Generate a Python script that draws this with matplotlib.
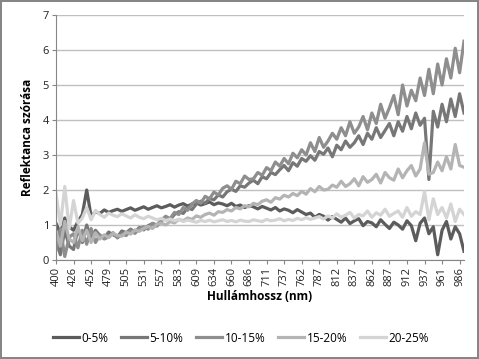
import matplotlib.pyplot as plt

plt.rcParams['font.family'] = ['Open Sans', 'DejaVu Sans']

# wavelength tick labels (every 4th sample of the category axis)
tick_labels = [400, 426, 452, 479, 505, 531, 557, 583, 609, 634, 660, 686,
               711, 737, 762, 787, 812, 837, 862, 887, 912, 937, 961, 986]

series_names = ['0-5%', '5-10%', '10-15%', '15-20%', '20-25%']
series_colors = ['#5c5c5c', '#777777', '#8e8e8e', '#b4b4b4', '#d4d4d4']

s0_5 = [1.05, 0.75, 1.2, 0.95, 0.85, 1.1, 1.3, 2.0,
        1.25, 1.38, 1.33, 1.43, 1.36, 1.41, 1.45, 1.39,
        1.44, 1.49, 1.42, 1.47, 1.52, 1.45, 1.5, 1.55,
        1.49, 1.53, 1.58, 1.51, 1.57, 1.61, 1.54, 1.6,
        1.63, 1.57, 1.61, 1.66, 1.58, 1.63, 1.6, 1.55,
        1.62, 1.53, 1.57, 1.5, 1.55, 1.52, 1.46, 1.53,
        1.48, 1.43, 1.5, 1.4, 1.46, 1.42, 1.35, 1.44,
        1.37, 1.3, 1.34, 1.22, 1.3, 1.25, 1.14, 1.24,
        1.16, 1.08, 1.2, 1.04, 1.12, 1.18, 0.98, 1.1,
        1.06, 0.95, 1.15, 1.02, 0.9, 1.08, 1.0, 0.88,
        1.12, 0.98, 0.55, 1.05, 1.2, 0.75, 0.95, 0.15,
        0.85, 1.1, 0.6, 0.95, 0.75, 0.25]

s5_10 = [0.55, 0.15, 0.85, 0.4, 0.3, 0.9, 0.5, 1.0,
         0.6, 0.85, 0.7, 0.62, 0.8, 0.72, 0.66, 0.83,
         0.78, 0.88, 0.8, 0.93, 0.86, 0.98, 1.04, 0.97,
         1.12, 1.2, 1.15, 1.3, 1.38, 1.33, 1.5, 1.44,
         1.6, 1.68, 1.62, 1.76, 1.72, 1.86, 1.8, 1.95,
         2.02, 1.96, 2.12, 2.08, 2.2, 2.28, 2.18, 2.38,
         2.32, 2.5, 2.44, 2.58, 2.7, 2.55, 2.78, 2.68,
         2.9, 2.82, 2.98, 2.85, 3.1, 3.02, 3.2, 2.95,
         3.28, 3.15, 3.4, 3.22, 3.35, 3.55, 3.3, 3.62,
         3.45, 3.78, 3.5, 3.7, 3.9, 3.55, 3.95, 3.68,
         4.1, 3.75, 4.2, 3.85, 4.05, 2.3, 4.25, 3.8,
         4.45, 3.95, 4.6, 4.1, 4.75, 4.2]

s10_15 = [0.3, 0.9, 0.1, 0.65, 0.75, 0.35, 0.85, 0.45,
          0.9, 0.5, 0.72, 0.6, 0.66, 0.78, 0.63, 0.74,
          0.7, 0.84, 0.76, 0.9, 0.95, 0.88, 1.05, 1.0,
          1.14, 1.25, 1.18, 1.36, 1.3, 1.5, 1.42, 1.6,
          1.7, 1.62, 1.82, 1.75, 1.94, 1.86, 2.05, 2.12,
          2.02, 2.25, 2.18, 2.4, 2.3, 2.32, 2.5, 2.42,
          2.64, 2.55, 2.8, 2.68, 2.9, 2.75, 3.05, 2.92,
          3.15, 3.0, 3.35, 3.1, 3.5, 3.22, 3.4, 3.62,
          3.45, 3.78, 3.55, 3.95, 3.62, 3.8, 4.1, 3.72,
          4.2, 3.9, 4.45, 4.05, 4.35, 4.7, 4.15, 5.0,
          4.4, 4.85, 4.55, 5.2, 4.7, 5.45, 4.75, 5.6,
          5.0, 5.75, 5.2, 6.05, 5.35, 6.25]

s15_20 = [0.8, 0.4, 1.1, 0.6, 0.5, 0.95, 0.55, 0.85,
          0.5, 0.78, 0.6, 0.72, 0.64, 0.76, 0.7, 0.68,
          0.8, 0.74, 0.86, 0.82, 0.9, 0.96, 0.9, 1.02,
          1.06, 1.0, 1.1, 1.06, 1.16, 1.12, 1.2, 1.16,
          1.26, 1.22, 1.3, 1.34, 1.28, 1.38, 1.36, 1.44,
          1.4, 1.5, 1.46, 1.55, 1.52, 1.62, 1.58, 1.68,
          1.72, 1.65, 1.78, 1.74, 1.85, 1.8, 1.9, 1.84,
          1.96, 1.88, 2.04, 1.95, 2.1, 2.0, 2.02, 2.14,
          2.08, 2.25, 2.1, 2.18, 2.32, 2.12, 2.38, 2.22,
          2.3, 2.45, 2.2, 2.5, 2.35, 2.28, 2.6, 2.35,
          2.55, 2.7, 2.4, 2.6, 3.35, 2.45, 2.5, 2.8,
          2.55, 2.95, 2.6, 3.3, 2.7, 2.65]

s20_25 = [1.9, 1.0, 2.1, 0.9, 1.7, 1.05, 1.2, 1.5,
          1.15, 1.42, 1.3, 1.22, 1.34, 1.28, 1.24, 1.32,
          1.26, 1.2, 1.29, 1.22, 1.18, 1.25, 1.2, 1.15,
          1.19, 1.13, 1.17, 1.12, 1.16, 1.1, 1.14, 1.11,
          1.08, 1.13, 1.1, 1.14, 1.09, 1.12, 1.15, 1.1,
          1.13, 1.09, 1.14, 1.11, 1.1, 1.15, 1.12, 1.1,
          1.16, 1.12, 1.14, 1.18, 1.12, 1.16, 1.13, 1.19,
          1.15, 1.21, 1.16, 1.2, 1.24, 1.17, 1.26, 1.2,
          1.32, 1.22, 1.28, 1.36, 1.2, 1.3, 1.26, 1.4,
          1.22, 1.35, 1.28, 1.45, 1.25, 1.33, 1.4, 1.22,
          1.5, 1.25, 1.38, 1.3, 1.95, 1.15, 1.75, 1.3,
          1.5, 1.2, 1.6, 1.1, 1.45, 1.3]

all_series = [s0_5, s5_10, s10_15, s15_20, s20_25]

fig = plt.figure(figsize=(4.79, 3.59), dpi=100)
fig.patch.set_facecolor('white')
fig.patch.set_edgecolor('#868686')
fig.patch.set_linewidth(1.5)

ax = fig.add_axes([56/479, 1 - 260/359, 408/479, 245/359])

for name, color, vals in zip(series_names, series_colors, all_series):
    ax.plot(range(len(vals)), vals, color=color, lw=2.3, label=name)

ax.set_xlim(0, len(s0_5) - 1)
ax.set_ylim(0, 7)
ax.set_yticks(range(8))
ax.set_xticks([4*i for i in range(len(tick_labels))])
ax.set_xticklabels([str(t) for t in tick_labels], rotation=90)
ax.grid(axis='y', color='#c0c0c0', lw=1)
ax.set_axisbelow(True)

for side in ['top', 'right']:
    ax.spines[side].set_visible(False)
for side in ['left', 'bottom']:
    ax.spines[side].set_color('#868686')
ax.tick_params(axis='both', colors='#868686', labelcolor='#222222',
               labelsize=8, length=3, width=0.8, pad=2)

ax.set_xlabel('Hullámhossz (nm)', fontsize=8.5, fontweight='bold', labelpad=3)
ax.set_ylabel('Reflektanca szórása', fontsize=8.5, fontweight='bold', labelpad=6)

fig.legend(loc='center', bbox_to_anchor=(0.503, 1 - 338/359), ncol=5,
           frameon=False, fontsize=8.5, handlelength=2.2, handletextpad=0.2,
           columnspacing=1.1)

fig.savefig('out.png', dpi=100)
